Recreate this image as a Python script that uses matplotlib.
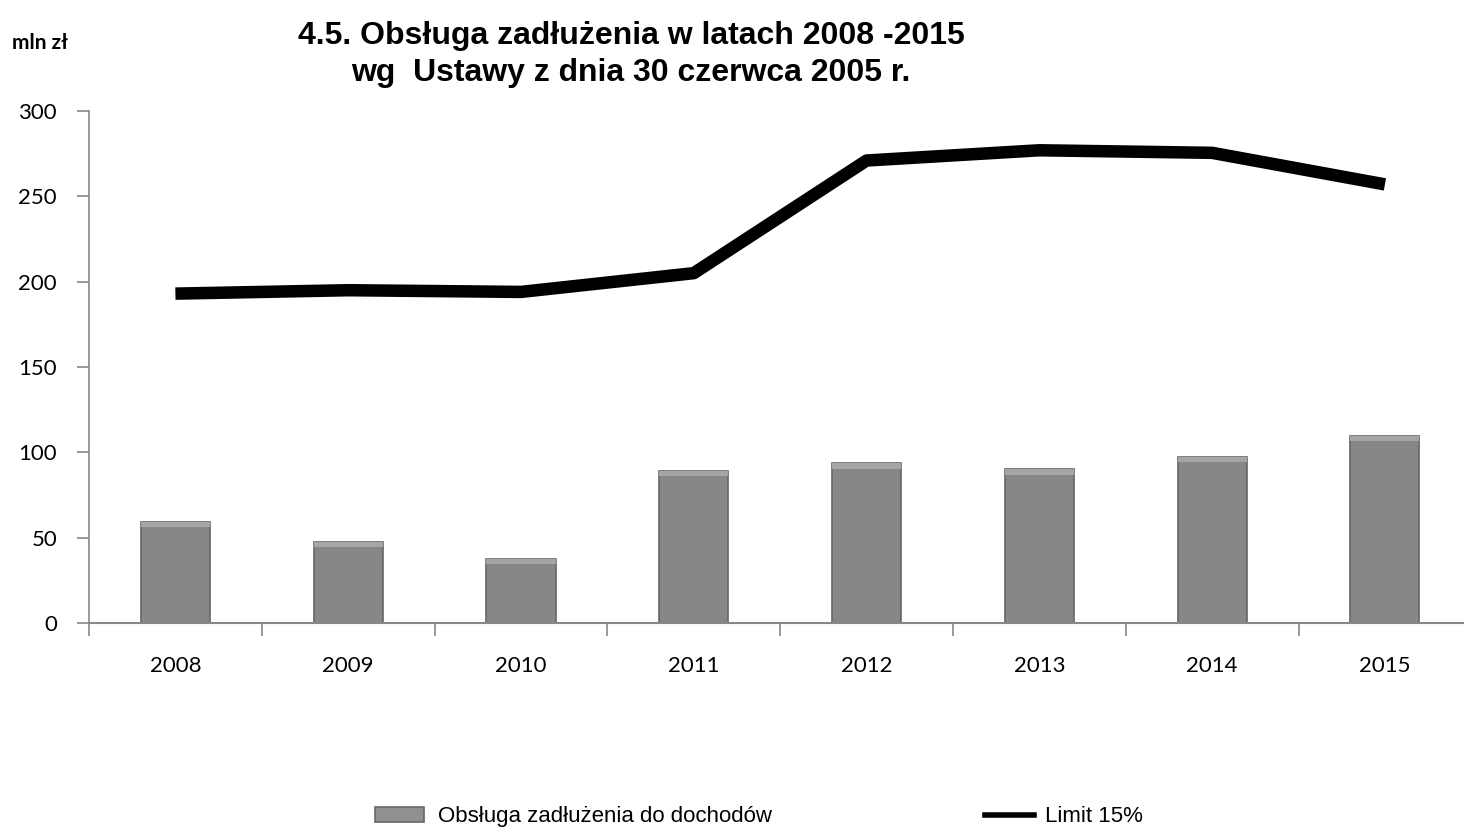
import matplotlib
matplotlib.use("Agg")
import matplotlib.pyplot as plt
from matplotlib.lines import Line2D
from matplotlib.patches import Patch

years = ["2008", "2009", "2010", "2011", "2012", "2013", "2014", "2015"]
obsluga = [59.0, 47.5, 37.5, 89.0, 93.5, 90.0, 97.5, 109.5]
limit = [193.0, 195.0, 194.0, 205.0, 271.0, 277.0, 275.5, 257.0]

narrow = "Liberation Sans"

fig = plt.figure(figsize=(14.64, 8.31), dpi=100)
ax = fig.add_axes([0.0608, 0.2503, 0.9442, 0.6161])

x = range(len(years))
ax.bar(x, obsluga, width=0.4, color="#878787", edgecolor="#666666",
       linewidth=1.2, zorder=2)
# lighter bevel at the top of each bar
ax.bar(x, [3.0] * len(years), width=0.4, bottom=[v - 3.0 for v in obsluga],
       color="#a5a5a5", linewidth=0, zorder=3)
ax.plot(x, limit, color="black", linewidth=9, solid_capstyle="butt", zorder=4)

ax.set_xlim(-0.5, len(years) - 0.5)
ax.set_ylim(0, 300)
ax.set_yticks(range(0, 301, 50))
ax.set_xticks(x)
ax.set_xticklabels(years)
ax.set_xticks([i + 0.5 for i in range(-1, len(years))], minor=True)
ax.tick_params(axis="x", which="major", length=0, pad=24, labelsize=16)
ax.tick_params(axis="x", which="minor", length=9, width=1.2, color="#888888", direction="out")
ax.tick_params(axis="y", length=9, width=1.2, color="#888888", direction="out", pad=14, labelsize=16)
for lab in ax.get_xticklabels() + ax.get_yticklabels():
    lab.set_family("Lato")

for s in ["top", "right"]:
    ax.spines[s].set_visible(False)
ax.spines["left"].set_color("#888888")
ax.spines["bottom"].set_color("#888888")
ax.spines["left"].set_linewidth(1.2)
ax.spines["bottom"].set_linewidth(1.5)

fig.text(0.431, 0.975, "4.5. Obsługa zadłużenia w latach 2008 -2015\nwg  Ustawy z dnia 30 czerwca 2005 r.",
         ha="center", va="top", fontsize=23, fontweight="bold", family=narrow, linespacing=1.3)
fig.text(0.008, 0.948, "mln zł", ha="left", va="center", fontsize=15, fontweight="bold", family="Lato")

bar_handle = Patch(facecolor="#909090", edgecolor="#666666", linewidth=1.2)
line_handle = Line2D([], [], color="black", linewidth=4)
fig.legend([bar_handle], ["Obsługa zadłużenia do dochodów"], loc="center left",
           bbox_to_anchor=(0.256, 0.017), frameon=False, handlelength=2.2,
           handleheight=0.6, handletextpad=0.65, borderaxespad=0, borderpad=0,
           prop={"family": narrow, "size": 16})
fig.legend([line_handle], ["Limit 15%"], loc="center left",
           bbox_to_anchor=(0.673, 0.017), frameon=False, handlelength=2.2,
           handletextpad=0.5, borderaxespad=0, borderpad=0,
           prop={"family": narrow, "size": 16})

fig.savefig("out.png", dpi=100)
